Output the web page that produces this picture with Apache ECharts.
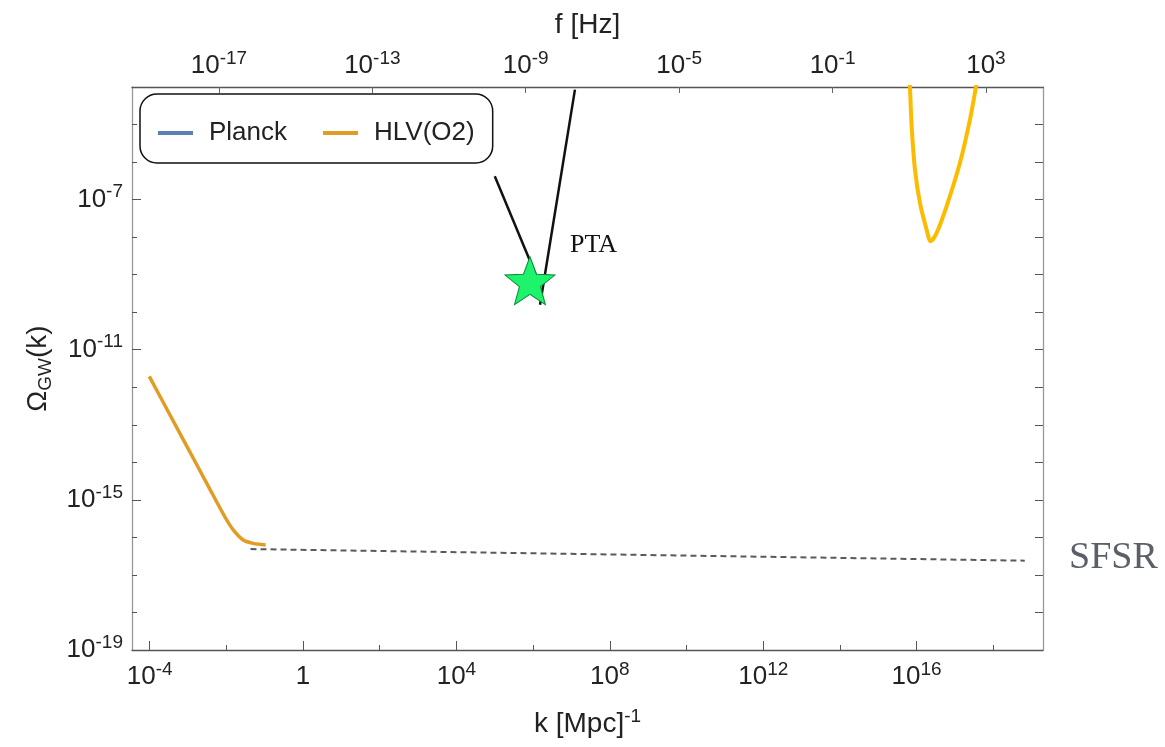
<!DOCTYPE html>
<html>
<head>
<meta charset="utf-8">
<script src="https://cdn.jsdelivr.net/npm/echarts@6/dist/echarts.min.js"></script>
<style>
    html, body { margin: 0; padding: 0; background: #fff; }
    #main { width: 1165px; height: 747px; }
</style>
</head>
<body>
<div id="main"></div>
<script>
// all values are log10
var hlvK = [-4.01, -3.5, -3.0, -2.5, -2.04, -1.82, -1.56, -1.30, -0.975];
var hlvOmega = [-11.71, -12.68, -13.63, -14.58, -15.45, -15.8, -16.07, -16.16, -16.2];

var bandK = [15.80, 15.825, 15.87, 15.956, 16.086, 16.26, 16.365, 16.52, 16.78, 17.13, 17.39, 17.58];
var bandOmega = [-3.5, -3.98, -5.05, -6.2, -7.09, -7.8, -8.11, -7.89, -7.18, -6.02, -4.87, -3.8];

var ptaLeftK = [5.0, 6.12];
var ptaLeftOmega = [-6.38, -9.13];
var ptaRightK = [7.09, 6.18];
var ptaRightOmega = [-4.07, -9.8];
var ptaStar = [5.917, -9.16];

var sfsrK = [-1.37, 18.82];
var sfsrOmega = [-16.31, -16.62];

var kTicks = [-4, 0, 4, 8, 12, 16];
var kMinor = [-2, 2, 6, 10, 14, 18];
var fTicks = [-17, -13, -9, -5, -1, 3];
var omegaTicks = [-19, -15, -11, -7];
var omegaMinor = [-18, -17, -16, -14, -13, -12, -10, -9, -8, -6, -5, -4];
var omegaAll = [-19, -18, -17, -16, -15, -14, -13, -12, -11, -10, -9, -8, -7, -6, -5, -4];

var kMin = -4.46, kMax = 19.295;
var kToF = -14.807; // log10 of c/(2 pi Mpc) in Hz

var sans = '"Liberation Sans", Arial, sans-serif';
var serif = '"Liberation Serif", "Times New Roman", serif';

function pairs(xs, ys) {
    var out = [];
    for (var i = 0; i < xs.length; i++) out.push([xs[i], ys[i]]);
    return out;
}

function powLabel(v) {
    v = Math.round(v);
    if (v === 0) return '{b|1}';
    return '{b|10}{s|' + v + '}';
}

var powRich = {
    b: { fontSize: 26, lineHeight: 34, fontFamily: sans, color: '#222' },
    s: { fontSize: 19, lineHeight: 19, verticalAlign: 'top', fontFamily: sans, color: '#222' }
};

var starPath = 'path://M50,0 L62.34,33.01 L97.55,34.55 L69.97,56.49 L79.39,90.45 L50,71 L20.61,90.45 L30.03,56.49 L2.45,34.55 L37.66,33.01 Z';

var myChart = echarts.init(document.getElementById('main'));
var option = {
    animation: false,
    backgroundColor: '#fff',
    grid: { left: 132, right: 122, top: 87, bottom: 97 },
    legend: {
        data: ['Planck', 'HLV(O2)'],
        icon: 'rect',
        left: 140,
        top: 94,
        padding: [26, 18, 17, 18],
        itemGap: 36,
        itemWidth: 35,
        itemHeight: 4,
        borderColor: '#111',
        borderWidth: 1.5,
        borderRadius: 17,
        textStyle: { fontSize: 26, fontFamily: sans, color: '#222', padding: [0, 0, 0, 11] }
    },
    xAxis: [
        {
            type: 'value', position: 'bottom', min: kMin, max: kMax,
            name: '{t|k [Mpc]}{s|-1}', nameLocation: 'middle', nameGap: 57,
            nameTextStyle: {
                fontSize: 28, fontFamily: sans,
                rich: {
                    t: { fontSize: 28, lineHeight: 34, fontFamily: sans, color: '#222' },
                    s: { fontSize: 19, lineHeight: 19, verticalAlign: 'top', fontFamily: sans, color: '#222' }
                }
            },
            axisLine: { onZero: false, lineStyle: { color: '#555', width: 1.3 } },
            axisTick: { inside: true, length: 9, customValues: kTicks, lineStyle: { color: '#555' } },
            axisLabel: { customValues: kTicks, formatter: powLabel, margin: 10, fontSize: 26, fontFamily: sans, rich: powRich },
            splitLine: { show: false }
        },
        {
            type: 'value', position: 'bottom', min: kMin, max: kMax,
            axisLine: { show: false, onZero: false },
            axisTick: { inside: true, length: 5, customValues: kMinor, lineStyle: { color: '#555' } },
            axisLabel: { show: false },
            splitLine: { show: false }
        },
        {
            type: 'value', position: 'top', min: kMin + kToF, max: kMax + kToF,
            name: 'f [Hz]', nameLocation: 'middle', nameGap: 48,
            nameTextStyle: { fontSize: 28, fontFamily: sans, color: '#222' },
            axisLine: { onZero: false, lineStyle: { color: '#555', width: 1.3 } },
            axisTick: { inside: true, length: 6, customValues: fTicks, lineStyle: { color: '#666' } },
            axisLabel: { customValues: fTicks, formatter: powLabel, margin: 4, fontSize: 26, fontFamily: sans, rich: powRich },
            splitLine: { show: false }
        }
    ],
    yAxis: [
        {
            type: 'value', position: 'left', min: -19, max: -4,
            name: '{o|Ω}{g|GW}{o|(k)}', nameLocation: 'middle', nameRotate: 90, nameGap: 77,
            nameTextStyle: {
                fontSize: 28, fontFamily: sans,
                rich: {
                    o: { fontSize: 28, lineHeight: 34, fontFamily: sans, color: '#222' },
                    g: { fontSize: 19, lineHeight: 22, verticalAlign: 'bottom', fontFamily: sans, color: '#222' }
                }
            },
            axisLine: { onZero: false, lineStyle: { color: '#999', width: 1.3 } },
            axisTick: { inside: true, length: 9, customValues: omegaTicks, lineStyle: { color: '#555' } },
            axisLabel: { customValues: omegaTicks, formatter: powLabel, margin: 9, fontSize: 26, fontFamily: sans, rich: powRich },
            splitLine: { show: false }
        },
        {
            type: 'value', position: 'left', min: -19, max: -4,
            axisLine: { show: false, onZero: false },
            axisTick: { inside: true, length: 5, customValues: omegaMinor, lineStyle: { color: '#555' } },
            axisLabel: { show: false },
            splitLine: { show: false }
        },
        {
            type: 'value', position: 'right', min: -19, max: -4,
            axisLine: { onZero: false, lineStyle: { color: '#999', width: 1.3 } },
            axisTick: { inside: true, length: 8, customValues: omegaAll, lineStyle: { color: '#555' } },
            axisLabel: { show: false },
            splitLine: { show: false }
        }
    ],
    graphic: [
        { type: 'text', x: 570, y: 245, style: { text: 'PTA', font: '26px ' + serif, fill: '#111', verticalAlign: 'middle' } },
        { type: 'text', x: 1069, y: 558, style: { text: 'SFSR', font: '38px ' + serif, fill: '#5b6068', verticalAlign: 'middle' } }
    ],
    series: [
        {
            name: 'Planck', type: 'line', data: [], symbol: 'none',
            itemStyle: { color: '#5E81B5' }, lineStyle: { width: 3, color: '#5E81B5' }
        },
        {
            name: 'HLV(O2)', type: 'line', data: pairs(hlvK, hlvOmega), symbol: 'none', smooth: 0.3,
            itemStyle: { color: '#E19C24' }, lineStyle: { width: 3.5, color: '#E19C24' }
        },
        {
            name: 'band', type: 'line', data: pairs(bandK, bandOmega), symbol: 'none', smooth: 0.3,
            lineStyle: { width: 4, color: '#FDBB00' }
        },
        {
            name: 'SFSR', type: 'line', data: pairs(sfsrK, sfsrOmega), symbol: 'none',
            lineStyle: { width: 2, color: '#555a63', type: [6, 4] }
        },
        {
            name: 'PTA left', type: 'line', data: pairs(ptaLeftK, ptaLeftOmega), symbol: 'none', z: 2,
            lineStyle: { width: 2.5, color: '#111' }
        },
        {
            name: 'PTA right', type: 'line', data: pairs(ptaRightK, ptaRightOmega), symbol: 'none', z: 2,
            lineStyle: { width: 2.5, color: '#111' }
        },
        {
            name: 'PTA', type: 'scatter', data: [ptaStar], symbol: starPath, symbolSize: [50, 48], z: 4,
            itemStyle: { color: '#1EF36C', borderColor: '#0a8a35', borderWidth: 1, opacity: 1 }
        }
    ]
};
myChart.setOption(option);
</script>
</body>
</html>
